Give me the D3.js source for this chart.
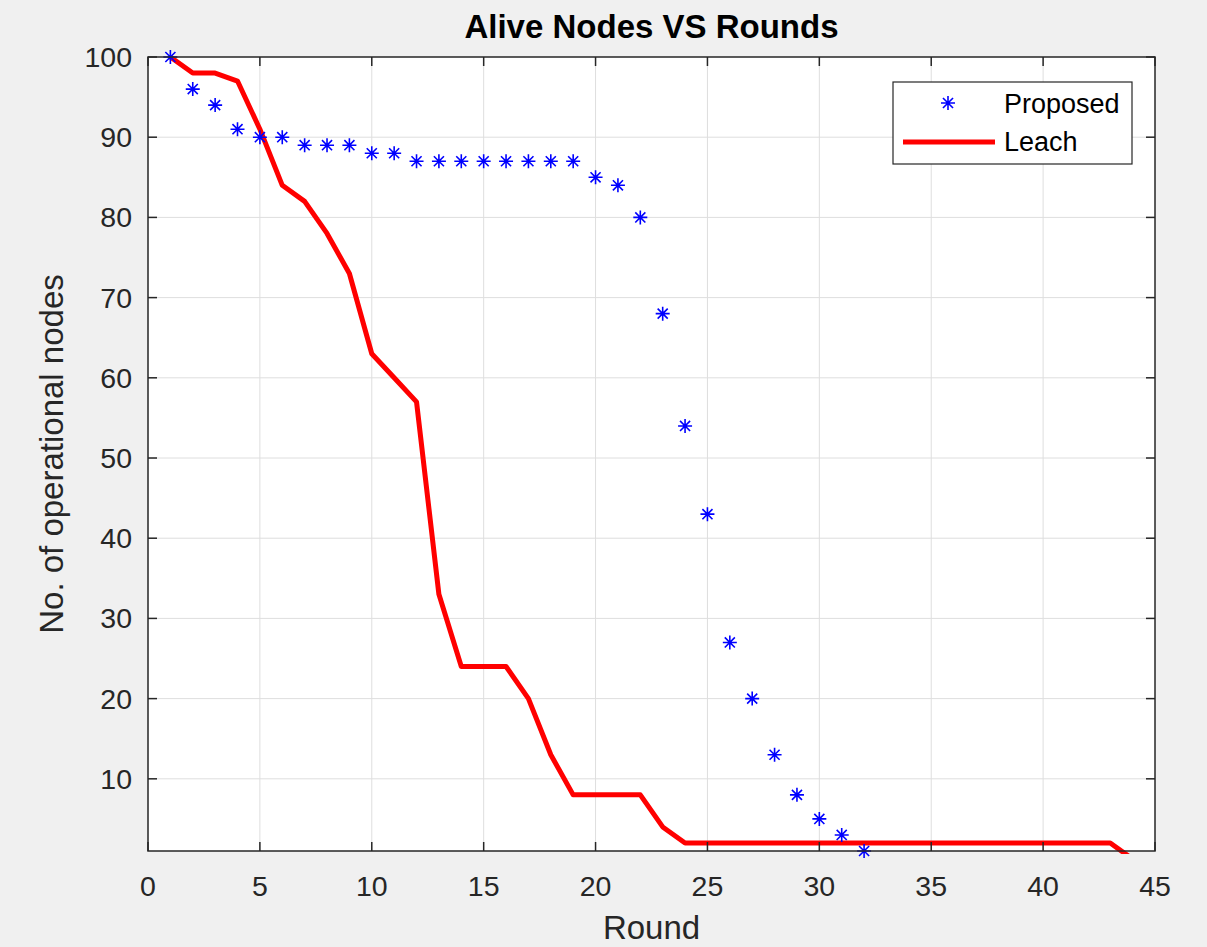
<!DOCTYPE html>
<html>
<head>
<meta charset="utf-8">
<script src="https://cdn.jsdelivr.net/npm/d3@7"></script>
<style>
  html, body { margin: 0; padding: 0; background: #f0f0f0; }
  svg { display: block; font-family: "Liberation Sans", Arial, sans-serif; }
</style>
</head>
<body>
<div id="chart"></div>
<script>
// Data
const rounds = d3.range(1, 45);
const proposedRounds = d3.range(1, 33);
const proposed = [100, 96, 94, 91, 90, 90, 89, 89, 89, 88, 88, 87, 87, 87, 87, 87,
	87, 87, 87, 85, 84, 80, 68, 54, 43, 27, 20, 13, 8, 5, 3, 1];
const leach = [100, 98, 98, 97, 91, 84, 82, 78, 73, 63, 60, 57, 33, 24, 24, 24,
	20, 13, 8, 8, 8, 8, 4, 2, 2, 2, 2, 2, 2, 2, 2, 2, 2, 2, 2, 2, 2, 2, 2, 2, 2, 2, 2, 0];
const xTicks = [0, 5, 10, 15, 20, 25, 30, 35, 40, 45];
const yTicks = [10, 20, 30, 40, 50, 60, 70, 80, 90, 100];
const seriesNames = ["Proposed", "Leach"];

const width = 1207, height = 947;
const margin = { left: 148, top: 57, right: 52, bottom: 96 };
const plotW = width - margin.left - margin.right;
const plotH = height - margin.top - margin.bottom;

const svg = d3.select("#chart").append("svg")
	.attr("width", width)
	.attr("height", height);

svg.append("rect")
	.attr("width", width)
	.attr("height", height)
	.attr("fill", "#f0f0f0");

const x = d3.scaleLinear().domain([0, 45]).range([0, plotW]);
const y = d3.scaleLinear().domain([1, 100]).range([plotH, 0]);

const g = svg.append("g")
	.attr("transform", `translate(${margin.left},${margin.top})`);

// axes background
g.append("rect")
	.attr("width", plotW)
	.attr("height", plotH)
	.attr("fill", "#ffffff");

// grid
g.append("g").selectAll("line")
	.data(xTicks.filter(d => d > 0 && d < 45))
	.enter().append("line")
	.attr("x1", d => x(d)).attr("x2", d => x(d))
	.attr("y1", 0).attr("y2", plotH)
	.attr("stroke", "#dedede").attr("stroke-width", 1);

g.append("g").selectAll("line")
	.data(yTicks.filter(d => d < 100))
	.enter().append("line")
	.attr("y1", d => y(d)).attr("y2", d => y(d))
	.attr("x1", 0).attr("x2", plotW)
	.attr("stroke", "#dedede").attr("stroke-width", 1);

// clip for the line
svg.append("defs").append("clipPath").attr("id", "plotClip")
	.append("rect")
	.attr("x", -3).attr("y", -3)
	.attr("width", plotW + 6).attr("height", plotH + 6);

// Leach line
const line = d3.line()
	.x((d, i) => x(rounds[i]))
	.y(d => y(d));

g.append("path")
	.datum(leach)
	.attr("clip-path", "url(#plotClip)")
	.attr("fill", "none")
	.attr("stroke", "#ff0000")
	.attr("stroke-width", 5)
	.attr("stroke-linejoin", "round")
	.attr("d", line);

// asterisk marker like matlab '*'
function asterisk(r) {
	const k = r * 0.72;
	return `M${-r},0L${r},0M0,${-r}L0,${r}M${-k},${-k}L${k},${k}M${-k},${k}L${k},${-k}`;
}

g.append("g").selectAll("path")
	.data(proposed)
	.enter().append("path")
	.attr("transform", (d, i) => `translate(${x(proposedRounds[i])},${y(d)})`)
	.attr("d", asterisk(7))
	.attr("fill", "none")
	.attr("stroke", "#0000ff")
	.attr("stroke-width", 1.6);

// axes box and ticks
const axisColor = "#262626";
g.append("rect")
	.attr("width", plotW)
	.attr("height", plotH)
	.attr("fill", "none")
	.attr("stroke", axisColor)
	.attr("stroke-width", 1.5);

const tickLen = 9;
const ticks = g.append("g").attr("stroke", axisColor).attr("stroke-width", 1.5);
xTicks.forEach(t => {
	ticks.append("line").attr("x1", x(t)).attr("x2", x(t)).attr("y1", plotH).attr("y2", plotH - tickLen);
	ticks.append("line").attr("x1", x(t)).attr("x2", x(t)).attr("y1", 0).attr("y2", tickLen);
});
yTicks.forEach(t => {
	ticks.append("line").attr("y1", y(t)).attr("y2", y(t)).attr("x1", 0).attr("x2", tickLen);
	ticks.append("line").attr("y1", y(t)).attr("y2", y(t)).attr("x1", plotW).attr("x2", plotW - tickLen);
});

// tick labels
g.append("g").selectAll("text")
	.data(xTicks)
	.enter().append("text")
	.attr("x", d => x(d))
	.attr("y", plotH + 45)
	.attr("text-anchor", "middle")
	.attr("font-size", 28.5)
	.attr("fill", axisColor)
	.text(d => d);

g.append("g").selectAll("text")
	.data(yTicks)
	.enter().append("text")
	.attr("x", -16)
	.attr("y", d => y(d))
	.attr("dy", "0.35em")
	.attr("text-anchor", "end")
	.attr("font-size", 28.5)
	.attr("fill", axisColor)
	.text(d => d);

// labels
svg.append("text")
	.attr("x", margin.left + plotW / 2)
	.attr("y", 939)
	.attr("text-anchor", "middle")
	.attr("font-size", 33)
	.attr("fill", axisColor)
	.text("Round");

svg.append("text")
	.attr("transform", `translate(63,${margin.top + plotH / 2}) rotate(-90)`)
	.attr("text-anchor", "middle")
	.attr("font-size", 33)
	.attr("fill", axisColor)
	.text("No. of operational nodes");

svg.append("text")
	.attr("x", margin.left + plotW / 2)
	.attr("y", 38)
	.attr("text-anchor", "middle")
	.attr("font-size", 33)
	.attr("font-weight", "bold")
	.attr("fill", "#000000")
	.text("Alive Nodes VS Rounds");

// legend
const legend = svg.append("g");
legend.append("rect")
	.attr("x", 893).attr("y", 82)
	.attr("width", 239).attr("height", 82)
	.attr("fill", "#ffffff")
	.attr("stroke", axisColor)
	.attr("stroke-width", 1.2);

legend.append("path")
	.attr("transform", "translate(948,103)")
	.attr("d", asterisk(7))
	.attr("fill", "none")
	.attr("stroke", "#0000ff")
	.attr("stroke-width", 1.6);

legend.append("line")
	.attr("x1", 903).attr("x2", 995)
	.attr("y1", 142).attr("y2", 142)
	.attr("stroke", "#ff0000")
	.attr("stroke-width", 5);

legend.selectAll("text.lbl")
	.data(seriesNames)
	.enter().append("text")
	.attr("class", "lbl")
	.attr("x", 1004)
	.attr("y", (d, i) => 113 + i * 38)
	.attr("font-size", 27)
	.attr("fill", "#000000")
	.text(d => d);
</script>
</body>
</html>
